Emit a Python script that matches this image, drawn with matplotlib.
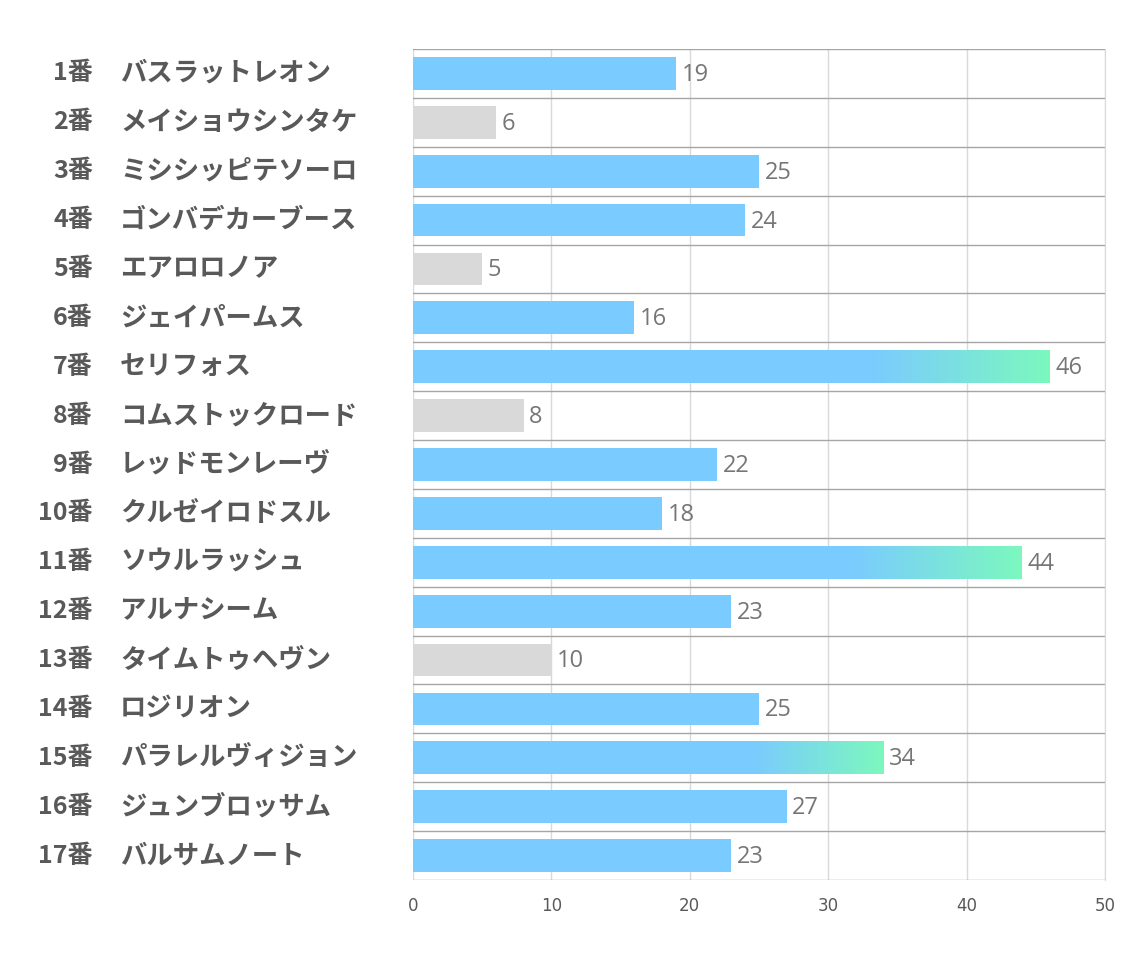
import matplotlib
matplotlib.use('Agg')
import matplotlib.pyplot as plt
from matplotlib.colors import LinearSegmentedColormap
import numpy as np

# data
nums = ['1番', '2番', '3番', '4番', '5番', '6番', '7番', '8番', '9番',
        '10番', '11番', '12番', '13番', '14番', '15番', '16番', '17番']
names = ['バスラットレオン', 'メイショウシンタケ', 'ミシシッピテソーロ', 'ゴンバデカーブース',
         'エアロロノア', 'ジェイパームス', 'セリフォス', 'コムストックロード',
         'レッドモンレーヴ', 'クルゼイロドスル', 'ソウルラッシュ', 'アルナシーム',
         'タイムトゥヘヴン', 'ロジリオン', 'パラレルヴィジョン', 'ジュンブロッサム',
         'バルサムノート']
values = [19, 6, 25, 24, 5, 16, 46, 8, 22, 18, 44, 23, 10, 25, 34, 27, 23]
kinds = ['blue', 'gray', 'blue', 'blue', 'gray', 'blue', 'grad', 'gray', 'blue',
         'blue', 'grad', 'blue', 'gray', 'blue', 'grad', 'blue', 'blue']

BLUE = '#7ACBFF'
GREEN = '#7CF8BE'
GRAY = '#D9D9D9'
grad_cmap = LinearSegmentedColormap.from_list('bg', [BLUE, GREEN])

jp = ['Noto Sans CJK JP', 'DejaVu Sans']

fig = plt.figure(figsize=(11.34, 9.64), dpi=100)
ax = fig.add_axes([413 / 1134, 1 - 880 / 964, (1105 - 413) / 1134, (880 - 49) / 964])

n = len(values)
ypos = np.arange(n)
bh = 0.67
px = 50 / (1105 - 413)  # data units per pixel

for y, v, k in zip(ypos, values, kinds):
    color = GRAY if k == 'gray' else BLUE
    ax.barh(y, v, height=bh, color=color, zorder=2)
    if k == 'grad':
        # last part of the bar fades blue -> green
        x0 = v * 0.72
        grad = np.linspace(0, 1, 256).reshape(1, -1)
        ax.imshow(grad, cmap=grad_cmap, aspect='auto', zorder=3,
                  extent=(x0, v, y + bh / 2, y - bh / 2), interpolation='bilinear')
    ax.text(v + 0.4, y + 0.03, str(v), va='center', ha='left', fontsize=17,
            color='#767676', family=['Open Sans', 'DejaVu Sans'], zorder=4)

ax.set_xlim(0, 50)
ax.set_ylim(n - 0.5, -0.5)
ax.set_xticks(np.arange(0, 51, 10))
ax.set_yticks([])
ax.set_yticks(np.arange(-0.5, n, 1), minor=True)
ax.tick_params(axis='y', which='both', length=0, labelleft=False)
ax.tick_params(axis='x', length=0, pad=12, labelsize=12, labelcolor='#595959')
for lbl in ax.get_xticklabels():
    lbl.set_family(['Liberation Sans Narrow', 'DejaVu Sans'])

ax.grid(axis='x', color='#D9D9D9', linewidth=1, zorder=0)
ax.grid(axis='y', which='minor', color='#A6A6A6', linewidth=1, zorder=1)
for s in ['left', 'top', 'bottom']:
    ax.spines[s].set_visible(False)
ax.spines['right'].set_color('#D9D9D9')

# row labels
for y, num, name in zip(ypos, nums, names):
    ax.text(-320 * px, y, num, ha='right', va='center', fontsize=18,
            fontweight='bold', color='#595959', family=jp)
    ax.text(-293 * px, y, name, ha='left', va='center', fontsize=19,
            fontweight='bold', color='#595959', family=jp)

fig.savefig('out.png', dpi=100, facecolor='white')
